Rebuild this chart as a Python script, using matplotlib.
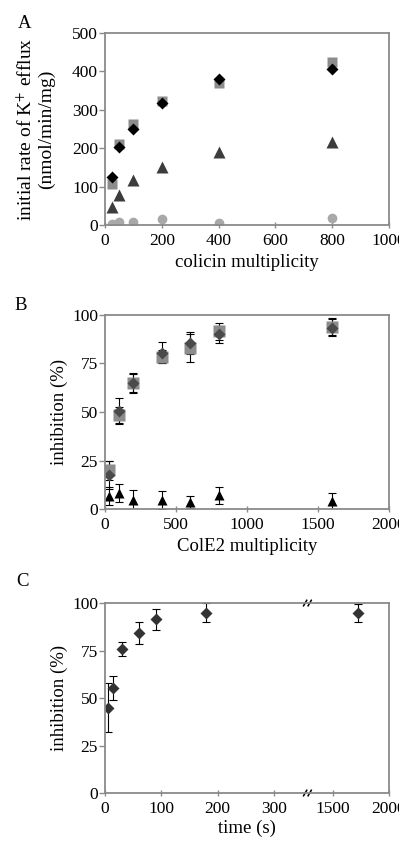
"""
Three stacked panels: K+ efflux vs colicin multiplicity (A),
inhibition vs ColE2 multiplicity (B) and inhibition vs time with a broken x axis (C).
"""

import numpy as np
import matplotlib
matplotlib.use('Agg')
import matplotlib.pyplot as plt

plt.rcParams['font.family'] = ['Liberation Serif', 'DejaVu Serif']
plt.rcParams['mathtext.fontset'] = 'stix'

# ---- panel A: initial rate of K+ efflux (nmol/min/mg)
A_X = [25, 50, 100, 200, 400, 800]
A_SQUARE = [107, 210, 263, 324, 370, 424]
A_DIAMOND = [125, 203, 250, 318, 381, 406]
A_TRIANGLE = [48, 77, 117, 152, 191, 217]
A_CIRCLE = [2, 9, 8, 15, 4, 17]

# ---- panel B: inhibition (%) vs ColE2 multiplicity
B_X = [25, 100, 200, 400, 600, 800, 1600]
B_SQUARE = [20, 48.5, 65, 78.5, 83, 91.5, 94]
B_SQUARE_ERR = [5, 4, 4.5, 3.5, 7, 4.5, 4.3]
B_DIAMOND = [17.5, 50.5, 65, 80.5, 85.5, 90, 93.5]
B_DIAMOND_ERR = [7, 6.5, 5, 5.5, 5.5, 4.5, 4.3]
B_TRIANGLE = [6.8, 8.2, 4.5, 4.8, 3.4, 7, 4]
B_TRIANGLE_ERR = [4.8, 4.7, 5.5, 4.6, 3.1, 4.2, 4.3]

# ---- panel C: inhibition (%) vs time (s)
C_T = [5, 15, 30, 60, 90, 180, 1725]
C_INH = [44.8, 55.2, 75.8, 84.2, 91.4, 94.8, 94.6]
C_ERR = [12.9, 6.3, 3.7, 5.6, 5.7, 5.0, 4.8]
C_TICKS = [0, 100, 200, 300, 1500, 2000]

# broken axis in C: [0, LO] at full scale, [HI, 2000] squeezed by SQ
LO, HI, SQ = 358.0, 1268.0, 5.0

SPINE = '#8a8a8a'
TICK_FS = 12.5
LABEL_FS = 13.5


def fwd(t):
    t = np.asarray(t, dtype=float)
    return np.where(t <= LO, t, np.where(t >= HI, LO + (t - HI) / SQ, LO))


def inv(u):
    u = np.asarray(u, dtype=float)
    return np.where(u <= LO, u, HI + (u - LO) * SQ)


def style(ax):
    for s in ax.spines.values():
        s.set_color(SPINE)
        s.set_linewidth(1.3)
    ax.tick_params(axis='y', direction='out', length=4, width=1, color=SPINE,
                   labelsize=TICK_FS, pad=1)
    ax.tick_params(axis='x', direction='inout', length=5, width=1, color=SPINE,
                   labelsize=TICK_FS, pad=3)


fig = plt.figure(figsize=(3.99, 8.44), dpi=100)
L, W = 105 / 399, 284 / 399

# ---------------- A
axA = fig.add_axes([L, 0.7334, W, 0.2275])
axA.plot(A_X, A_SQUARE, 's', color='#8c8c8c', ms=7.5, mec='none')
axA.plot(A_X, A_DIAMOND, 'D', color='black', ms=6.5, mec='none')
axA.plot(A_X, A_TRIANGLE, '^', color='#3c3c3c', ms=8.5, mec='none')
axA.plot(A_X, A_CIRCLE, 'o', color='#a8a8a8', ms=7, mec='none')
axA.set_xlim(0, 1000)
axA.set_ylim(0, 500)
axA.set_xticks(range(0, 1001, 200))
axA.set_yticks(range(0, 501, 100))
axA.set_xlabel('colicin multiplicity', fontsize=LABEL_FS, labelpad=4)
axA.set_ylabel('initial rate of K$^{+}$ efflux\n(nmol/min/mg)',
               fontsize=14, labelpad=12, linespacing=1.15)
style(axA)
fig.text(18 / 399, 1 - 23 / 844, 'A', fontsize=13.5, ha='left', va='center')

# ---------------- B
eb = dict(fmt='none', ecolor='black', elinewidth=0.8, capsize=3, capthick=0.8)
axB = fig.add_axes([L, 0.3969, W, 0.2299])
axB.errorbar(B_X, B_SQUARE, yerr=B_SQUARE_ERR, **eb)
axB.errorbar(B_X, B_DIAMOND, yerr=B_DIAMOND_ERR, **eb)
axB.errorbar(B_X, B_TRIANGLE, yerr=B_TRIANGLE_ERR, **eb)
axB.plot(B_X, B_SQUARE, 's', color='#8c8c8c', ms=8, mec='none')
axB.plot(B_X, B_DIAMOND, 'D', color='#4a4a4a', ms=6.5, mec='none')
axB.plot(B_X, B_TRIANGLE, '^', color='black', ms=7.5, mec='none')
axB.set_xlim(0, 2000)
axB.set_ylim(0, 100)
axB.set_xticks(range(0, 2001, 500))
axB.set_yticks(range(0, 101, 25))
axB.set_xlabel('ColE2 multiplicity', fontsize=LABEL_FS, labelpad=4)
axB.set_ylabel('inhibition (%)', fontsize=LABEL_FS, labelpad=3)
style(axB)
fig.text(14 / 399, 1 - 305 / 844, 'B', fontsize=13.5, ha='left', va='center')

# ---------------- C
axC = fig.add_axes([L, 0.0604, W, 0.2251])
axC.set_xscale('function', functions=(fwd, inv))
axC.errorbar(C_T, C_INH, yerr=C_ERR, **eb)
axC.plot(C_T, C_INH, 'D', color='#333333', ms=6.5, mec='none')
axC.set_xlim(0, 2000)
axC.set_ylim(0, 100)
axC.set_xticks(C_TICKS)
axC.set_xticklabels([str(t) for t in C_TICKS])
axC.xaxis.set_minor_locator(matplotlib.ticker.NullLocator())
axC.set_yticks(range(0, 101, 25))
axC.set_xlabel('time (s)', fontsize=LABEL_FS, labelpad=2)
axC.set_ylabel('inhibition (%)', fontsize=LABEL_FS, labelpad=3)
style(axC)
# break marks on top and bottom spines
xb = float(fwd(HI) / fwd(2000))
for yb in (0.0, 1.0):
    for dx in (-0.012, 0.004):
        axC.plot([xb + dx, xb + dx + 0.014], [yb - 0.018, yb + 0.018],
                 transform=axC.transAxes, color='black', lw=1.1,
                 clip_on=False, solid_capstyle='butt')
fig.text(16 / 399, 1 - 582 / 844, 'C', fontsize=13.5, ha='left', va='center')

fig.savefig('out.png', dpi=100)
plt.close(fig)
